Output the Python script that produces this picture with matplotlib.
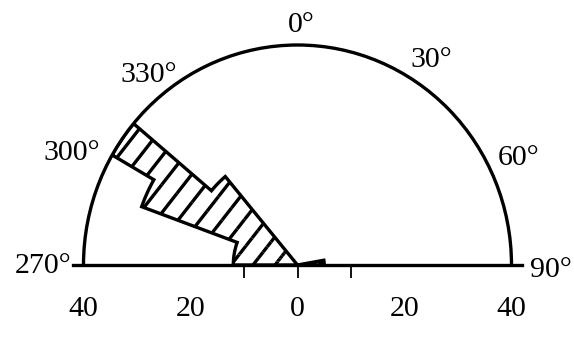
import numpy as np
import matplotlib.pyplot as plt
from matplotlib.collections import LineCollection
from matplotlib.markers import TICKDOWN

plt.rcParams['font.family'] = ['Liberation Serif', 'DejaVu Serif']
plt.rcParams['font.size'] = 21.5

# rose diagram, 10 degree sectors (start azimuth, frequency)
bin_start = [270, 280, 290, 300, 310, 80]
bin_value = [12, 12, 31, 40, 21, 5]
bin_width = 10
r_max = 40

theta_ticks = [270, 300, 330, 0, 30, 60, 90]
theta_labels = ['270°', '300°', '330°', '0°', '30°', '60°', '90°']
r_tick_labels = [-40, -20, 0, 20, 40]
r_minor_ticks = [-10, 0, 10]

LW = 2.4


def signed(deg):
    # azimuth -> -180..180 so the left half sits at negative angles
    return ((np.asarray(deg) + 180) % 360) - 180


def envelope(starts, values):
    th, rr = [starts[0]], [0]
    for s, v in zip(starts, values):
        a = np.linspace(s, s + bin_width, 25)
        th.extend(a)
        rr.extend([v] * len(a))
    th.append(starts[-1] + bin_width)
    rr.append(0)
    return np.deg2rad(th), rr


W, H = 574, 339
fig = plt.figure(figsize=(W / 100, H / 100), dpi=100)
# half disc: centre (297.5, 265) px from top, radius 214 x 220 px
cx, cy, rx, ry = 297.5, H - 265, 214, 220
ax = fig.add_axes([(cx - rx) / W, (cy - 0.5 * ry) / H, 2 * rx / W, 2 * ry / H],
                  projection='polar')
ax.set_theta_zero_location('N')
ax.set_theta_direction(-1)
ax.set_thetamin(-90)
ax.set_thetamax(90)
ax.set_aspect('auto')

starts = signed(bin_start)
bars = ax.bar(np.deg2rad(starts), bin_value, width=np.deg2rad(bin_width),
              align='edge', bottom=0, facecolor='none', edgecolor='none')
ax.set_rlim(0, r_max)

# diagonal hatching, clipped to each sector
ang = np.deg2rad(52)
step = 0.22
x0, y0 = 2.53, cy / 100
segs = []
for k in range(-40, 41):
    xa = x0 + k * step
    segs.append([(xa - 5 * np.cos(ang), y0 - 5 * np.sin(ang)),
                 (xa + 5 * np.cos(ang), y0 + 5 * np.sin(ang))])
for b in bars:
    lc = LineCollection(segs, colors='k', linewidths=LW,
                        transform=fig.dpi_scale_trans)
    ax.add_collection(lc, autolim=False)
    # pass the path itself, a Rectangle would only clip to its bbox
    lc.set_clip_path(b.get_path(), b.get_transform())

# outline of each run of adjacent sectors
order = np.argsort(starts)
s_sorted = starts[order]
v_sorted = np.asarray(bin_value)[order]
groups = [[0]]
for i in range(1, len(s_sorted)):
    if s_sorted[i] == s_sorted[i - 1] + bin_width:
        groups[-1].append(i)
    else:
        groups.append([i])
for g in groups:
    th, rr = envelope(s_sorted[g], v_sorted[g])
    ax.plot(th, rr, color='k', lw=LW, solid_joinstyle='miter')

# frame
for name in ['start', 'end', 'inner']:
    ax.spines[name].set_visible(False)
ax.spines['polar'].set_linewidth(LW)
ax.grid(False)
ax.set_yticks([])
ax.set_xticks(np.deg2rad(signed(theta_ticks)))
ax.set_xticklabels([])
ax.tick_params(axis='x', direction='out', length=4, width=1.3)

# base line, a little past the rim on both sides
ax.plot(np.deg2rad([-90, -90, 90, 90]), [r_max + 2, 0, 0, r_max + 2],
        color='k', lw=LW, clip_on=False)

# radial scale under the base line
for v in r_tick_labels:
    t = np.deg2rad(-90 if v < 0 else 90)
    ax.annotate(str(abs(v)), xy=(t, abs(v)), xytext=(0, -51),
                textcoords='offset pixels', ha='center', va='baseline',
                annotation_clip=False)
ax.plot([np.deg2rad(-90 if v < 0 else 90) for v in r_minor_ticks],
        [abs(v) for v in r_minor_ticks], ls='none', marker=TICKDOWN,
        ms=9, mew=1.3, color='k', clip_on=False)

# azimuth labels around the rim
label_pos = {270: (-11.5, -8, 'right'), 300: (-12, -5, 'right'),
             330: (-13.5, -7.5, 'right'), 0: (3.5, 13, 'center'),
             30: (5.5, 7.5, 'left'), 60: (15, -10, 'left'),
             90: (18.5, -12, 'left')}
for t, lab in zip(theta_ticks, theta_labels):
    dx, dy, ha = label_pos[t]
    ax.annotate(lab, xy=(np.deg2rad(signed(t)), r_max), xytext=(dx, dy),
                textcoords='offset pixels', ha=ha, va='baseline',
                annotation_clip=False)

fig.savefig('out.png', dpi=100)
